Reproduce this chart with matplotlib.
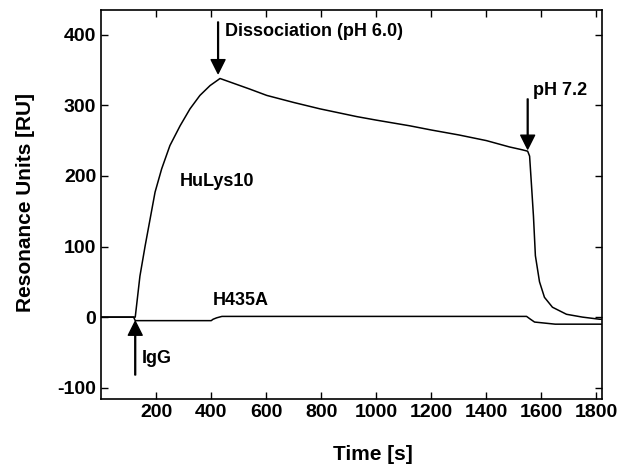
#!/usr/bin/env python3

import numpy as np
import matplotlib
matplotlib.use('Agg')

import matplotlib.pyplot as plt

# HuLys10 sensorgram (time in s, response in RU)
hulys_t = [0, 60, 118, 124, 141, 160, 178, 196, 220, 250, 287, 323, 359,
           396, 425, 432, 468, 540, 602, 700, 795, 929, 1000, 1121, 1200, 1300,
           1400, 1484, 1530, 1550, 1557, 1564, 1571, 1578, 1593, 1611, 1640,
           1691, 1749, 1811, 1820]
hulys_v = [0, 0, 0, 0, 58, 101, 139, 177, 210, 243, 271, 295, 314,
           328, 336, 338, 333, 323, 314, 304, 295, 284, 279, 271, 265, 258,
           250, 241, 237, 235, 228, 186, 143, 87, 50, 28, 14,
           4, 0, -3, -3]

# H435A control
h435_t = [0, 60, 118, 124, 200, 300, 400, 407, 420, 439, 600, 800, 1000, 1200,
          1400, 1546, 1560, 1575, 1600, 1650, 1700, 1820]
h435_v = [0, 0, 0, -5, -5, -5, -5, -3, -1, 1, 1, 1, 1, 1,
          1, 1, -3, -7, -8, -10, -10, -10]

xticks = [200, 400, 600, 800, 1000, 1200, 1400, 1600, 1800]
yticks = [-100, 0, 100, 200, 300, 400]


def main():
    plt.rcParams['font.family'] = ['Liberation Sans', 'DejaVu Sans']
    plt.rcParams['font.weight'] = 'bold'
    plt.rcParams['axes.unicode_minus'] = False

    fig = plt.figure(figsize=(6.32, 4.67), dpi=100)
    ax = fig.add_axes([0.160, 0.1456, 0.7925, 0.833])

    ax.plot(hulys_t, hulys_v, color='black', lw=1.1)
    ax.plot(h435_t, h435_v, color='black', lw=1.1)

    ax.set_xlim(0, 1820)
    ax.set_ylim(-116, 435)
    ax.set_xticks(xticks)
    ax.set_yticks(yticks)
    ax.tick_params(direction='in', top=True, right=True, length=5,
                   labelsize=14, width=1)
    for lab in ax.get_xticklabels() + ax.get_yticklabels():
        lab.set_fontweight('bold')
    for s in ax.spines.values():
        s.set_linewidth(1.2)

    ax.set_xlabel("Time [s]", fontsize=15, fontweight='bold')
    ax.set_ylabel("Resonance Units [RU]", fontsize=15, fontweight='bold')
    ax.xaxis.set_label_coords(0.543, -0.118)
    ax.yaxis.set_label_coords(-0.132, 0.504)

    # arrows
    arr = dict(facecolor='black', edgecolor='black', width=0.6,
               headwidth=10, headlength=10, shrink=0)
    ax.annotate("", xy=(425, 345), xytext=(425, 418), arrowprops=arr)
    ax.annotate("", xy=(1550, 238), xytext=(1550, 309), arrowprops=arr)
    ax.annotate("", xy=(124, -6), xytext=(124, -82), arrowprops=arr)

    txt = dict(fontsize=13, fontweight='bold', va='center', ha='left')
    ax.text(450, 404, "Dissociation (pH 6.0)", **txt)
    ax.text(1568, 321, "pH 7.2", **txt)
    ax.text(287, 192, "HuLys10", **txt)
    ax.text(407, 24, "H435A", **txt)
    ax.text(149, -58, "IgG", **txt)

    fig.savefig("out.png", dpi=100)


if __name__ == "__main__":
    main()
